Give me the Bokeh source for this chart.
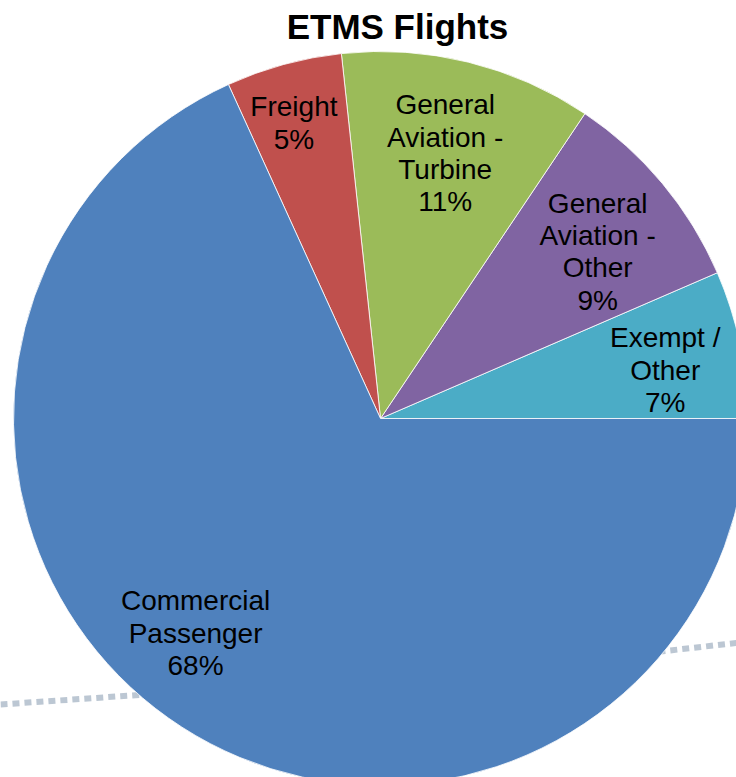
import math
from bokeh.plotting import figure
from bokeh.models import Range1d, ColumnDataSource
from bokeh.core.properties import value
from bokeh.embed import file_html
from bokeh.resources import INLINE

# ---- data ----
categories = ["Exempt /\nOther", "General\nAviation -\nOther", "General\nAviation -\nTurbine",
              "Freight", "Commercial\nPassenger"]
shares = [6.5, 9.1, 11.1, 5.1, 68.2]
pct_labels = ["7%", "9%", "11%", "5%", "68%"]
colors = ["#4BACC6", "#8064A2", "#9BBB59", "#C0504D", "#4F81BD"]

# ---- layout (page pixels; data y = 777 - page y) ----
W, H = 736, 777
CX, CY = 380, 777 - 418
R = 367
label_frac = 0.77
label_nudge = [(8, -9), (0, -14), (-3, -9), (-12, 23), (-32, 23)]

p = figure(width=W, height=H, output_backend="svg", toolbar_location=None,
           x_range=Range1d(0, W), y_range=Range1d(0, H),
           min_border=0, background_fill_color="white", border_fill_color="white")
p.axis.visible = False
p.grid.visible = False
p.outline_line_color = None

# decorative dotted slide line behind the pie
p.line([0, 145, 660, 740], [777 - 704, 777 - 694, 777 - 651, 777 - 642],
       line_color="#BCC7D3", line_width=6, line_dash="7 5")

total = sum(shares)
starts, ends, lx, ly, texts = [], [], [], [], []
acc = 0.0
for i, s in enumerate(shares):
    a0 = 2 * math.pi * acc / total
    acc += s
    a1 = 2 * math.pi * acc / total
    starts.append(a0)
    ends.append(a1)
    mid = (a0 + a1) / 2
    lx.append(CX + label_frac * R * math.cos(mid) + label_nudge[i][0])
    ly.append(CY + label_frac * R * math.sin(mid) + label_nudge[i][1])
    texts.append(categories[i] + "\n" + pct_labels[i])

src = ColumnDataSource(dict(start=starts, end=ends, color=colors, x=lx, y=ly, text=texts))

p.wedge(x=CX, y=CY, radius=R, start_angle="start", end_angle="end",
        fill_color="color", line_color="white", line_width=1, line_alpha=0.8, source=src)

p.text(x="x", y="y", text="text", source=src, text_align="center", text_baseline="middle",
       text_font=value("Liberation Sans"), text_font_size="28px", text_color="black",
       text_line_height=1.04)

p.text(x=[397], y=[777 - 26], text=["ETMS Flights"], text_align="center",
       text_baseline="middle", text_font=value("Liberation Sans"), text_font_size="35px",
       text_font_style="bold", text_color="black")

open("out.html", "w").write(file_html(p, INLINE))
